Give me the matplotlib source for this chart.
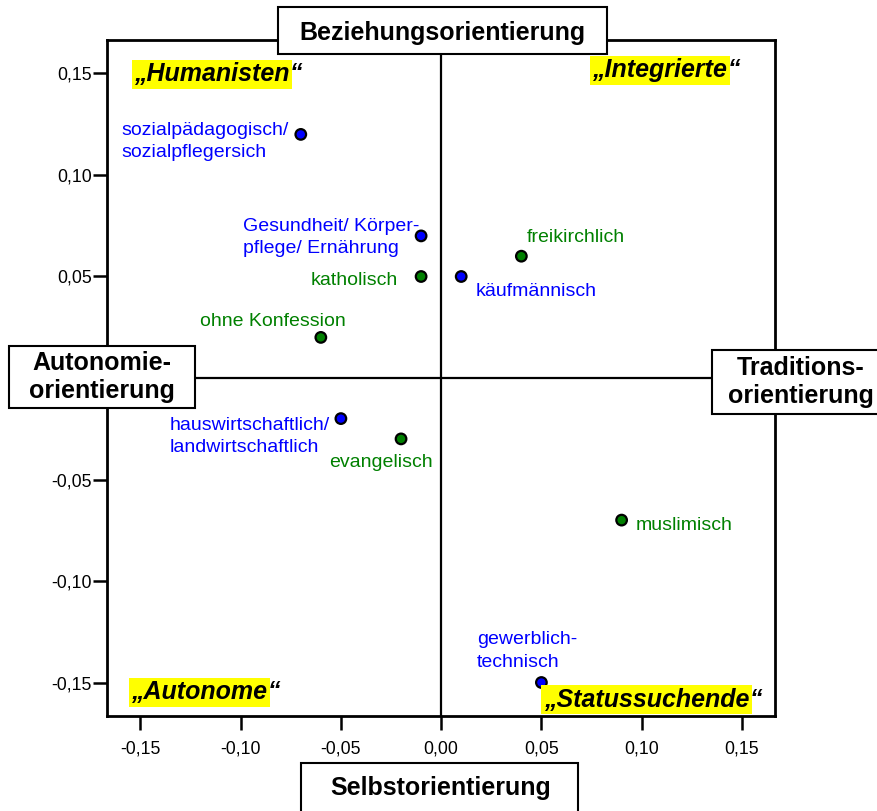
import matplotlib
matplotlib.use('Agg')
import matplotlib.pyplot as plt
from matplotlib.patches import Rectangle

plt.rcParams['font.family'] = ['Liberation Sans', 'DejaVu Sans']

# ---------------- data ----------------
point_labels = ["sozialpädagogisch/\nsozialpflegersich",
                "Gesundheit/ Körper-\npflege/ Ernährung",
                "katholisch",
                "käufmännisch",
                "freikirchlich",
                "ohne Konfession",
                "hauswirtschaftlich/\nlandwirtschaftlich",
                "evangelisch",
                "muslimisch",
                "gewerblich-\ntechnisch"]
x_values = [-0.07, -0.01, -0.01, 0.01, 0.04, -0.06, -0.05, -0.02, 0.09, 0.05]
y_values = [0.12, 0.07, 0.05, 0.05, 0.06, 0.02, -0.02, -0.03, -0.07, -0.15]
point_groups = ["Bildungsgang", "Bildungsgang", "Konfession", "Bildungsgang",
                "Konfession", "Konfession", "Bildungsgang", "Konfession",
                "Konfession", "Bildungsgang"]
tick_values = [-0.15, -0.10, -0.05, 0.00, 0.05, 0.10, 0.15]
x_tick_labels = ["-0,15", "-0,10", "-0,05", "0,00", "0,05", "0,10", "0,15"]
# the y label at 0 is hidden under the "Autonomieorientierung" box in the original
y_tick_labels = ["-0,15", "-0,10", "-0,05", "", "0,05", "0,10", "0,15"]
quadrant_names = ["Humanisten", "Integrierte", "Autonome", "Statussuchende"]
axis_names = ["Beziehungsorientierung", "Selbstorientierung",
              "Autonomie-\norientierung", "Traditions-\norientierung"]

# ---------------- styles ----------------
group_colors = {"Bildungsgang": "#0000ff", "Konfession": "#008000"}
# label placement: (dx px, dy px of last-line baseline, ha)
label_offsets = [(-12, -22.7, 'right'), (-2, -17.3, 'right'), (-23, -9, 'right'),
                 (14, -20, 'left'), (5.6, 14.3, 'left'), (25, 11, 'right'),
                 (-11, -33.4, 'right'), (-72.4, -27.7, 'left'), (14.4, -10, 'left'),
                 (-64.4, 16, 'left')]
quadrant_pos = [(0.0407, 0.9497), (0.7268, 0.9556), (0.0362, 0.0355), (0.654, 0.0237)]
# boxes: (x0, y0, x1, y1) in pixels (top-left origin), text centre x, last baseline y
axis_boxes = [((278, 7, 607, 54), 442.4, 40),
              ((300.7, 763, 578, 830), 441, 795),
              ((9, 346, 195, 408), 101.7, 398.3),
              ((712, 350, 890, 414), 800.5, 403.3)]

W, H = 877, 811
fig = plt.figure(figsize=(W / 100, H / 100), dpi=100)
ax_l, ax_r, ax_t, ax_b = 107.3, 775, 40, 716
ax = fig.add_axes([ax_l / W, (H - ax_b) / H, (ax_r - ax_l) / W, (ax_b - ax_t) / H])

lim = 0.1665
ax.set_xlim(-lim, lim)
ax.set_ylim(-lim, lim)
ax.set_xticks(tick_values)
ax.set_xticklabels(x_tick_labels)
ax.set_yticks(tick_values)
ax.set_yticklabels(y_tick_labels)
for sp in ax.spines.values():
    sp.set_linewidth(2)
    sp.set_color('black')
ax.tick_params(axis='both', direction='out', length=10, width=1.8,
               labelsize=12.7, colors='black')
ax.tick_params(axis='x', pad=8)
ax.tick_params(axis='y', pad=1)

ax.axhline(0, color='black', lw=1.6, zorder=2)
ax.axvline(0, color='black', lw=1.6, zorder=2)

colors = [group_colors[g] for g in point_groups]
ax.scatter(x_values, y_values, s=58, c=colors, edgecolors='black',
           linewidths=1.6, zorder=4)

for lab, x, y, g, (dx, dy, ha) in zip(point_labels, x_values, y_values,
                                      point_groups, label_offsets):
    ax.annotate(lab, (x, y), xytext=(dx, dy), textcoords='offset pixels',
                ha=ha, va='baseline', multialignment='left', fontsize=14,
                linespacing=1.42, color=group_colors[g], zorder=5)

for name, (qx, qy) in zip(quadrant_names, quadrant_pos):
    t = ax.text(qx, qy, '\u201e' + name, transform=ax.transAxes, fontsize=18,
                fontweight='bold', fontstyle='italic', ha='left', va='center',
                bbox=dict(boxstyle='square,pad=0.1', fc='#ffff00', ec='none'),
                zorder=6)
    ax.annotate('\u201c', xy=(1, 0.5), xycoords=t, xytext=(0, 0),
                textcoords='offset pixels', ha='left', va='center', fontsize=18,
                fontweight='bold', fontstyle='italic', zorder=6)

for name, ((x0, y0, x1, y1), cx, by) in zip(axis_names, axis_boxes):
    fig.add_artist(Rectangle((x0 / W, 1 - y1 / H), (x1 - x0) / W, (y1 - y0) / H,
                             transform=fig.transFigure, fc='white', ec='black',
                             lw=1.5, zorder=10))
    fig.text(cx / W, 1 - by / H, name, ha='center', va='baseline',
             multialignment='center', fontsize=18, fontweight='bold',
             linespacing=1.23, zorder=11)

fig.savefig('out.png', dpi=100)
